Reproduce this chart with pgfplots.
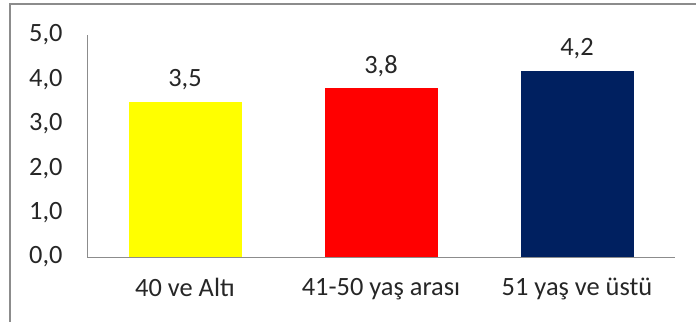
\documentclass[border=0pt]{standalone}
\usepackage{pgfplots}
\pgfplotsset{compat=1.18}
\usepackage{fontspec}
\setmainfont{Carlito}

\definecolor{barYellow}{HTML}{FFFF00}
\definecolor{barRed}{HTML}{FF0000}
\definecolor{barNavy}{HTML}{002060}
\definecolor{txt}{HTML}{262626}
\definecolor{axisGray}{HTML}{8C8C8C}

\begin{document}
\begin{tikzpicture}
\useasboundingbox (0,0) rectangle (696bp,322bp);
% chart area frame (top and left edges)
\draw[axisGray, line width=1.5bp] (10bp,0) -- (10bp,318bp) -- (696bp,318bp);
\begin{axis}[
  at={(87bp,65bp)}, anchor=south west,
  scale only axis, width=588bp, height=222bp,
  xmin=-0.5, xmax=2.5, ymin=0, ymax=5,
  axis x line*=bottom, axis y line*=left,
  axis line style={axisGray, line width=1bp, -},
  major tick length=0pt,
  xtick={0,1,2},
  xticklabels={40 ve Altı, 41-50 yaş arası, 51 yaş ve üstü},
  ytick={0,1,2,3,4,5},
  /pgf/number format/assume math mode=true,
  yticklabel style={xshift=-21bp, /pgf/number format/fixed, /pgf/number format/fixed zerofill,
    /pgf/number format/precision=1, /pgf/number format/use comma},
  xticklabel style={yshift=-18bp},
  tick label style={font=\fontsize{26.5}{30}\selectfont, text=txt},
  ybar, bar width=113bp, bar shift=0pt,
  nodes near coords,
  nodes near coords style={font=\fontsize{26.5}{30}\selectfont, text=txt, anchor=base, yshift=15bp,
    /pgf/number format/fixed, /pgf/number format/fixed zerofill,
    /pgf/number format/precision=1, /pgf/number format/use comma},
  clip=false,
]
\addplot[fill=barYellow, draw=none] coordinates {(0,3.5)};
\addplot[fill=barRed, draw=none] coordinates {(1,3.8)};
\addplot[fill=barNavy, draw=none] coordinates {(2,4.2)};
\end{axis}
\end{tikzpicture}
\end{document}
